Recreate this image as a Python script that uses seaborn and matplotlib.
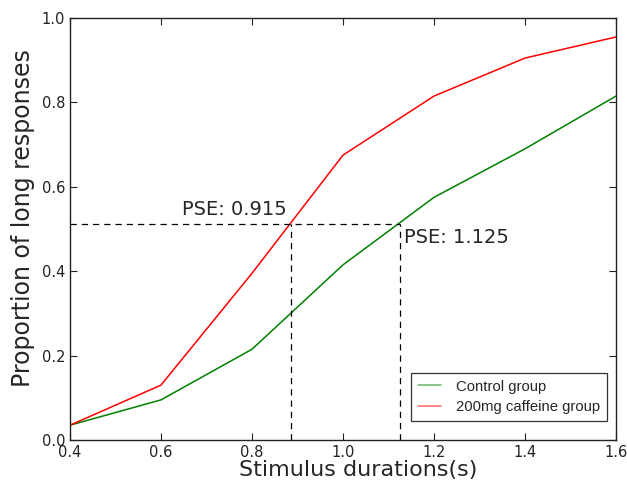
import matplotlib
matplotlib.use("Agg")
import matplotlib.pyplot as plt
import seaborn as sns
import pandas as pd

durations = [0.4, 0.6, 0.8, 1.0, 1.2, 1.4, 1.6]
control = [0.035, 0.095, 0.215, 0.415, 0.575, 0.690, 0.815]
caffeine = [0.035, 0.130, 0.395, 0.675, 0.815, 0.905, 0.955]
group_names = ["Control group", "200mg caffeine group"]
pse_level = 0.512
pse_caffeine_x = 0.885
pse_control_x = 1.125
pse_labels = ["PSE: 0.915", "PSE: 1.125"]

sns.set_style("ticks")
plt.rcParams["font.family"] = ["DejaVu Sans"]
plt.rcParams["xtick.direction"] = "in"
plt.rcParams["ytick.direction"] = "in"
plt.rcParams["xtick.top"] = True
plt.rcParams["ytick.right"] = True

df = pd.DataFrame({
    "x": durations * 2,
    "y": control + caffeine,
    "group": [group_names[0]] * len(durations) + [group_names[1]] * len(durations),
})

fig = plt.figure(figsize=(6.27, 4.86), dpi=100)
ax = fig.add_axes([0.1116, 0.0947, 0.8709, 0.8683])
sns.lineplot(data=df, x="x", y="y", hue="group",
             palette={group_names[0]: "#008000", group_names[1]: "#ff0000"},
             linewidth=1.1, ax=ax)

ax.plot([durations[0], pse_control_x], [pse_level, pse_level], "k--", linewidth=0.9, dashes=(5, 4))
ax.plot([pse_caffeine_x, pse_caffeine_x], [0, pse_level], "k--", linewidth=0.9, dashes=(5, 4))
ax.plot([pse_control_x, pse_control_x], [0, pse_level], "k--", linewidth=0.9, dashes=(5, 4))

ax.text(pse_caffeine_x - 0.008, pse_level + 0.012, pse_labels[0], fontsize=14, ha="right", va="bottom")
ax.text(pse_control_x + 0.009, pse_level - 0.01, pse_labels[1], fontsize=14, ha="left", va="top")

ax.set_xlim(0.4, 1.6)
ax.set_ylim(0, 1.0)
ax.set_xticks([0.4, 0.6, 0.8, 1.0, 1.2, 1.4, 1.6])
ax.set_yticks([0.0, 0.2, 0.4, 0.6, 0.8, 1.0])
ax.set_xticklabels(["0.4", "0.6", "0.8", "1.0", "1.2", "1.4", "1.6"])
ax.set_yticklabels(["0.0", "0.2", "0.4", "0.6", "0.8", "1.0"])
ax.tick_params(labelsize=10.5, length=5, width=0.8, colors="#222222")
ax.set_xlabel("Stimulus durations(s)", fontsize=16)
ax.set_ylabel("Proportion of long responses", fontsize=17)
ax.xaxis.set_label_coords(0.527, -0.047)
ax.yaxis.set_label_coords(-0.064, 0.525)
for s in ax.spines.values():
    s.set_linewidth(1.0)
    s.set_color("#222222")

leg = ax.legend(loc="lower right", frameon=True, fancybox=False,
                prop={"family": "Liberation Sans", "size": 10.7},
                borderpad=0.45, labelspacing=0.45, handlelength=1.6, handletextpad=1.0,
                borderaxespad=0, bbox_to_anchor=(0.9835, 0.045))
leg.get_frame().set_edgecolor("black")
leg.get_frame().set_linewidth(0.9)
for line in leg.get_lines():
    line.set_alpha(0.6)

fig.savefig("out.png", dpi=100)
